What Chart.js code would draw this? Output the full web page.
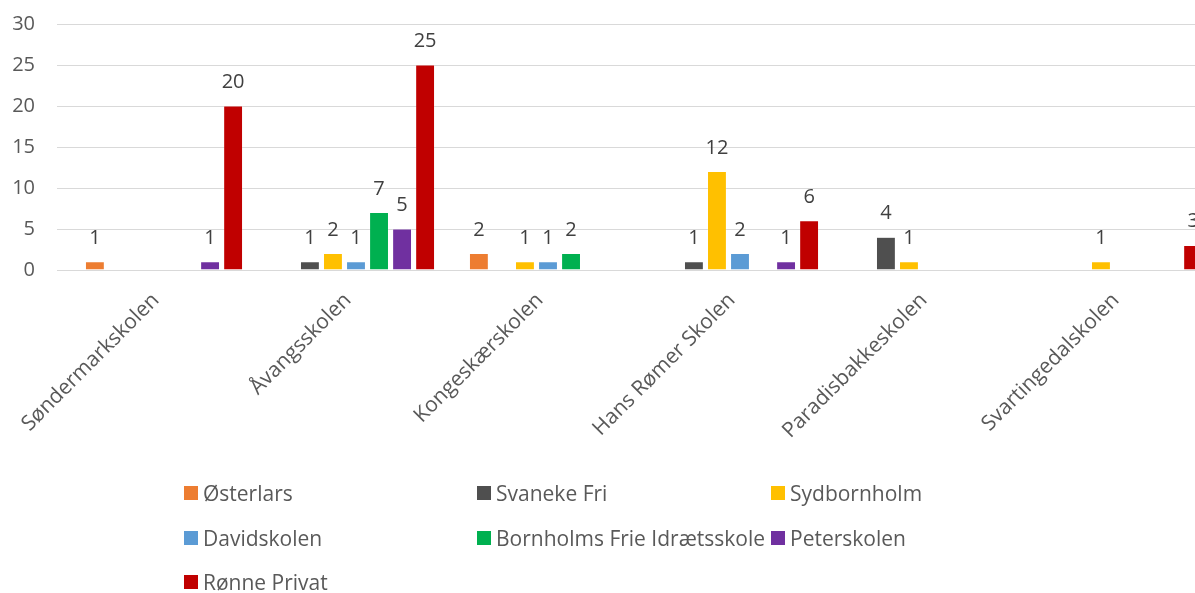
<!DOCTYPE html>
<html>
<head>
<meta charset="utf-8">
<script src="https://cdn.jsdelivr.net/npm/chart.js@4"></script>
<style>
  html, body { margin:0; padding:0; background:#fff; overflow:hidden; width:1195px; height:593px; }
  #wrap { position:absolute; left:0; top:0; width:1240px; height:460px; }
  #legend { position:absolute; left:0; top:0; width:1195px; height:593px; pointer-events:none;
            font-family: "Open Sans", sans-serif; font-size:21px; color:#595959; }
  .li { position:absolute; display:flex; align-items:center; white-space:nowrap; }
  .sw { width:14px; height:14px; margin-right:5px; }
</style>
</head>
<body>
<div id="wrap"><canvas id="c" width="1240" height="460"></canvas></div>
<div id="legend"></div>
<script>
const categories = ["Søndermarkskolen","Åvangsskolen","Kongeskærskolen","Hans Rømer Skolen","Paradisbakkeskolen","Svartingedalskolen"];
const seriesNames = ["Østerlars","Svaneke Fri","Sydbornholm","Davidskolen","Bornholms Frie Idrætsskole","Peterskolen","Rønne Privat"];
const osterlars   = [1, null, 2, null, null, null];
const svanekeFri  = [null, 1, null, 1, 4, null];
const sydbornholm = [null, 2, 1, 12, 1, 1];
const davidskolen = [null, 1, 1, 2, null, null];
const bornholmsFI = [null, 7, 2, null, null, null];
const peterskolen = [1, 5, null, 1, null, null];
const ronnePrivat = [20, 25, null, 6, null, 3];
const yTicks = [0, 5, 10, 15, 20, 25, 30];
const colors = ["#ED7D31","#4F4F4F","#FFC000","#5B9BD5","#00B050","#7030A0","#C00000"];
const seriesData = [osterlars, svanekeFri, sydbornholm, davidskolen, bornholmsFI, peterskolen, ronnePrivat];

const FONT = '"Open Sans", sans-serif';

const valueLabels = {
  id: 'valueLabels',
  afterDatasetsDraw(chart) {
    const ctx = chart.ctx;
    ctx.save();
    ctx.font = '20px ' + FONT;
    ctx.fillStyle = '#404040';
    ctx.textAlign = 'center';
    ctx.textBaseline = 'alphabetic';
    chart.data.datasets.forEach((ds, i) => {
      const meta = chart.getDatasetMeta(i);
      meta.data.forEach((bar, j) => {
        const v = ds.data[j];
        if (v === null || v === undefined) return;
        ctx.fillText(String(v), bar.x, bar.y - 18);
      });
    });
    ctx.restore();
  }
};

new Chart(document.getElementById('c'), {
  type: 'bar',
  data: {
    labels: categories,
    datasets: seriesNames.map((n, i) => ({
      label: n,
      data: seriesData[i],
      backgroundColor: colors[i],
      borderColor: 'rgba(255,255,255,0.6)',
      borderWidth: 0.5,
      barPercentage: 0.82,
      categoryPercentage: 0.84
    }))
  },
  options: {
    responsive: false,
    animation: false,
    devicePixelRatio: 1,
    layout: { padding: { top: 24, right: 20, left: 0, bottom: 0 } },
    plugins: { legend: { display: false }, tooltip: { enabled: false } },
    scales: {
      x: {
        grid: { display: false },
        border: { display: true, color: '#d9d9d9', width: 1 },
        ticks: { font: { family: FONT, size: 21 }, color: '#595959', maxRotation: 45, minRotation: 45, padding: 10, labelOffset: -8, autoSkip: false },
        afterFit(scale) { scale.height = 190; }
      },
      y: {
        min: 0, max: 30,
        afterBuildTicks(scale) { scale.ticks = yTicks.map(v => ({ value: v })); },
        grid: { color: '#d9d9d9', lineWidth: 1, drawTicks: true, tickLength: 11, tickColor: '#d9d9d9' },
        border: { display: false },
        ticks: { font: { family: FONT, size: 20 }, color: '#595959', padding: 22 },
        afterFit(scale) { scale.width = 68; scale.paddingTop = 10; scale.paddingBottom = 10; }
      }
    }
  },
  plugins: [valueLabels]
});

const leg = document.getElementById('legend');
const colX = [184, 477, 771];
const rowY = [493, 538, 582];
seriesNames.forEach((n, i) => {
  const el = document.createElement('div');
  el.className = 'li';
  el.style.left = colX[i % 3] + 'px';
  el.style.top = (rowY[Math.floor(i / 3)] - 13) + 'px';
  el.style.height = '26px';
  const sw = document.createElement('div');
  sw.className = 'sw';
  sw.style.background = colors[i];
  const t = document.createElement('span');
  t.textContent = n;
  el.appendChild(sw); el.appendChild(t);
  leg.appendChild(el);
});
</script>
</body>
</html>
